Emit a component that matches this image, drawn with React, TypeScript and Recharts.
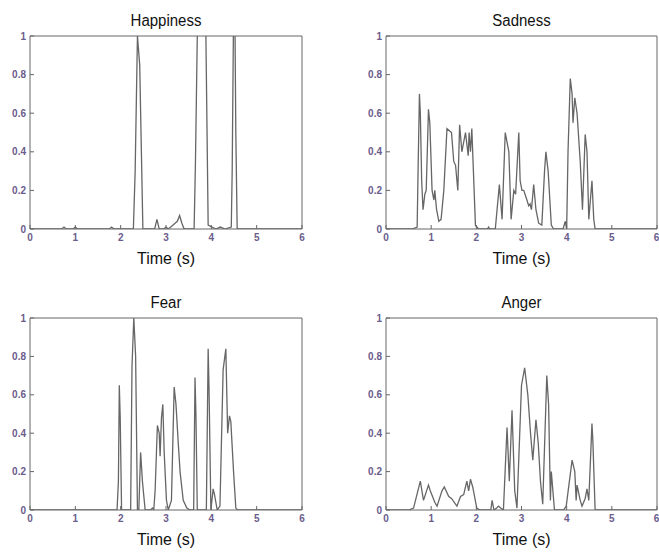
import React from "react";
import { LineChart, Line, XAxis, YAxis } from "recharts";

// [time (s), score] samples
const happiness: [number, number][] = [
  [0, 0], [0.7, 0], [0.75, 0.01], [0.8, 0], [0.95, 0], [1.0, 0.01], [1.05, 0],
  [1.75, 0], [1.8, 0.01], [1.85, 0], [2.28, 0], [2.32, 0.3], [2.37, 1.0],
  [2.42, 0.85], [2.49, 0], [2.75, 0], [2.8, 0.05], [2.85, 0], [2.95, 0],
  [3.0, 0.01], [3.05, 0], [3.15, 0.02], [3.2, 0.03], [3.25, 0.04], [3.3, 0.07],
  [3.35, 0.03], [3.4, 0], [3.62, 0], [3.65, 0.35], [3.69, 1.0], [3.72, 1.3],
  [3.85, 1.3], [3.88, 1.0], [3.93, 0.02], [4.1, 0], [4.2, 0.01], [4.3, 0],
  [4.44, 0.01], [4.46, 0.3], [4.48, 0.84], [4.49, 1.1], [4.52, 1.1],
  [4.54, 0.5], [4.57, 0], [6, 0],
];

const sadness: [number, number][] = [
  [0, 0], [0.58, 0], [0.69, 0.01], [0.71, 0.3], [0.74, 0.7], [0.76, 0.6],
  [0.79, 0.25], [0.82, 0.1], [0.86, 0.18], [0.89, 0.2], [0.92, 0.45],
  [0.94, 0.62], [0.97, 0.55], [1.02, 0.2], [1.06, 0.15], [1.08, 0.2],
  [1.12, 0.1], [1.17, 0.04], [1.22, 0.05], [1.28, 0.2], [1.35, 0.52],
  [1.45, 0.5], [1.5, 0.35], [1.54, 0.33], [1.59, 0.2], [1.63, 0.54],
  [1.68, 0.4], [1.76, 0.5], [1.82, 0.38], [1.84, 0.5], [1.87, 0.4],
  [1.9, 0.52], [1.98, 0.02], [2.05, 0], [2.25, 0], [2.27, 0.01], [2.3, 0],
  [2.42, 0], [2.51, 0.23], [2.57, 0.05], [2.64, 0.5], [2.68, 0.45],
  [2.72, 0.4], [2.77, 0.05], [2.83, 0.2], [2.87, 0.18], [2.94, 0.5],
  [2.97, 0.25], [3.01, 0.2], [3.05, 0.2], [3.12, 0.15], [3.16, 0.12],
  [3.19, 0.13], [3.22, 0.1], [3.27, 0.23], [3.32, 0.1], [3.38, 0.03],
  [3.45, 0.02], [3.51, 0.3], [3.54, 0.4], [3.59, 0.3], [3.66, 0.02],
  [3.71, 0], [3.92, 0], [3.97, 0.04], [4.0, 0], [4.03, 0.4], [4.08, 0.78],
  [4.12, 0.7], [4.14, 0.55], [4.18, 0.68], [4.23, 0.6], [4.3, 0.35],
  [4.35, 0.1], [4.41, 0.49], [4.45, 0.4], [4.49, 0.05], [4.56, 0.25],
  [4.6, 0.05], [4.63, 0], [6, 0],
];

const fear: [number, number][] = [
  [0, 0], [1.92, 0], [1.95, 0.15], [1.97, 0.65], [1.99, 0.48], [2.02, 0],
  [2.22, 0], [2.25, 0.75], [2.29, 1.0], [2.33, 0.8], [2.37, 0], [2.4, 0],
  [2.44, 0.3], [2.48, 0.15], [2.54, 0], [2.66, 0], [2.7, 0.01], [2.73, 0],
  [2.76, 0.1], [2.81, 0.44], [2.85, 0.4], [2.87, 0.28], [2.9, 0.48],
  [2.93, 0.55], [2.96, 0.3], [3.01, 0.05], [3.05, 0], [3.12, 0.05],
  [3.18, 0.64], [3.22, 0.55], [3.27, 0.35], [3.31, 0.2], [3.38, 0.05],
  [3.46, 0.01], [3.53, 0], [3.61, 0], [3.64, 0.69], [3.66, 0.5], [3.69, 0],
  [3.89, 0], [3.93, 0.84], [3.95, 0.62], [3.99, 0], [4.04, 0.11],
  [4.07, 0.08], [4.13, 0], [4.19, 0.02], [4.26, 0.73], [4.32, 0.84],
  [4.36, 0.4], [4.4, 0.49], [4.43, 0.46], [4.49, 0.2], [4.54, 0.01],
  [4.58, 0], [6, 0],
];

const anger: [number, number][] = [
  [0, 0], [0.5, 0], [0.61, 0.01], [0.76, 0.15], [0.83, 0.05], [0.94, 0.13],
  [0.98, 0.1], [1.08, 0.04], [1.13, 0.02], [1.24, 0.1], [1.29, 0.12],
  [1.39, 0.07], [1.45, 0.06], [1.57, 0.02], [1.65, 0.07], [1.72, 0.08],
  [1.79, 0.15], [1.83, 0.1], [1.87, 0.16], [1.92, 0.12], [2.01, 0.01],
  [2.08, 0], [2.32, 0], [2.35, 0.05], [2.39, 0], [2.45, 0.01], [2.49, 0.02],
  [2.54, 0.01], [2.6, 0], [2.68, 0.43], [2.73, 0.15], [2.79, 0.52],
  [2.85, 0.1], [2.9, 0.01], [3.0, 0.65], [3.07, 0.74], [3.14, 0.6],
  [3.2, 0.4], [3.25, 0.26], [3.32, 0.47], [3.37, 0.35], [3.42, 0.15],
  [3.47, 0.03], [3.56, 0.7], [3.6, 0.55], [3.64, 0.05], [3.66, 0.2],
  [3.73, 0], [3.93, 0], [3.99, 0.02], [4.12, 0.26], [4.18, 0.2],
  [4.21, 0.05], [4.23, 0.13], [4.3, 0.05], [4.34, 0.02], [4.41, 0.06],
  [4.45, 0.11], [4.49, 0.05], [4.56, 0.45], [4.58, 0.36], [4.63, 0], [6, 0],
];

const xTicks = [0, 1, 2, 3, 4, 5, 6];
const yTicks = [0, 0.2, 0.4, 0.6, 0.8, 1];

const FONT = "Arial, 'Liberation Sans', sans-serif";
const AXIS = "#666666";
const LINE = "#666666";
const TICK_TEXT = "#6a5c8c";

interface PanelProps {
  title: string;
  points: [number, number][];
  left: number;
  top: number;
  marginLeft: number;
  marginRight: number;
  marginTop: number;
  marginBottom: number;
  height: number;
}

function Panel({
  title,
  points,
  left,
  top,
  marginLeft,
  marginRight,
  marginTop,
  marginBottom,
  height,
}: PanelProps) {
  const data = points.map(([t, v]) => ({ t, v }));
  const width = 330;
  const tickStyle = { fontSize: 10, fontWeight: 700, fill: TICK_TEXT, fontFamily: FONT };
  const plotLeft = marginLeft + 24;
  const plotWidth = width - plotLeft - marginRight - 1;
  return (
    <div style={{ position: "absolute", left, top, width, height }}>
      <div
        style={{
          position: "absolute",
          left: plotLeft,
          width: plotWidth,
          top: marginTop - 23,
          textAlign: "center",
          fontFamily: FONT,
          fontSize: 15,
          lineHeight: "15px",
          color: "#111",
          transform: "scaleY(1.15)",
        }}
      >
        {title}
      </div>
      <LineChart
        width={width}
        height={height}
        data={data}
        margin={{ top: marginTop, right: marginRight, left: marginLeft, bottom: marginBottom }}
      >
        <XAxis
          xAxisId="bottom"
          dataKey="t"
          type="number"
          domain={[0, 6]}
          ticks={xTicks}
          height={40}
          tickSize={-4}
          tickMargin={9}
          stroke={AXIS}
          tick={tickStyle}
          label={{
            value: "Time (s)",
            position: "insideBottom",
            offset: 5,
            fontSize: 16,
            fill: "#111",
            fontFamily: FONT,
          }}
        />
        <XAxis
          xAxisId="top"
          dataKey="t"
          type="number"
          orientation="top"
          domain={[0, 6]}
          ticks={xTicks}
          height={1}
          tickSize={-4}
          stroke={AXIS}
          tick={false}
        />
        <YAxis
          yAxisId="left"
          domain={[0, 1]}
          ticks={yTicks}
          allowDataOverflow
          width={24}
          tickSize={-4}
          tickMargin={8}
          stroke={AXIS}
          tick={tickStyle}
        />
        <YAxis
          yAxisId="right"
          orientation="right"
          domain={[0, 1]}
          ticks={yTicks}
          allowDataOverflow
          width={1}
          tickSize={-4}
          stroke={AXIS}
          tick={false}
        />
        <Line
          xAxisId="bottom"
          yAxisId="left"
          type="linear"
          dataKey="v"
          stroke={LINE}
          strokeWidth={1.3}
          dot={false}
          isAnimationActive={false}
        />
      </LineChart>
    </div>
  );
}

export default function App() {
  return (
    <div
      style={{
        position: "absolute",
        left: 0,
        top: 0,
        width: 659,
        height: 553,
        background: "#fff",
        overflow: "hidden",
      }}
    >
      <Panel title="Happiness" points={happiness} left={0} top={0}
        marginLeft={6} marginRight={27} marginTop={35} marginBottom={1} height={270} />
      <Panel title="Sadness" points={sadness} left={329} top={0}
        marginLeft={33} marginRight={1} marginTop={35} marginBottom={1} height={270} />
      <Panel title="Fear" points={fear} left={0} top={270}
        marginLeft={6} marginRight={27} marginTop={47} marginBottom={3} height={283} />
      <Panel title="Anger" points={anger} left={329} top={270}
        marginLeft={33} marginRight={1} marginTop={47} marginBottom={3} height={283} />
    </div>
  );
}
